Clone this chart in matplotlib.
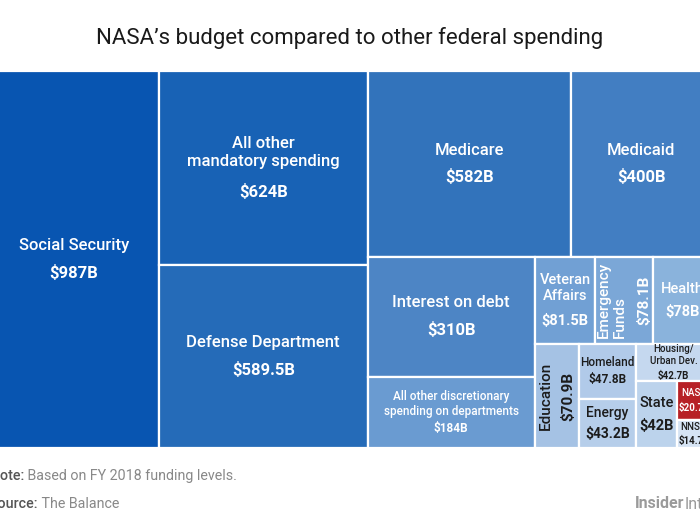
import matplotlib
matplotlib.use("Agg")
import matplotlib.pyplot as plt
from matplotlib.patches import Rectangle

# budget items, FY 2018 ($ billions)
names = ["Social Security", "All other\nmandatory spending", "Defense Department",
         "Medicare", "Medicaid", "Interest on debt",
         "All other discretionary\nspending on departments",
         "Veteran\nAffairs", "Emergency\nFunds", "Health", "Education",
         "Homeland", "Energy", "Housing/\nUrban Dev.", "State", "NASA", "NNSA"]
values = [987, 624, 589.5, 582, 400, 310, 184, 81.5, 78.1, 78, 70.9,
          47.8, 43.2, 42.7, 42, 20.7, 14.7]

colors = ["#0855b1", "#1862b5", "#256bb8", "#3273bb", "#427ec2", "#4d85c5",
          "#6a9bd1", "#71a0d4", "#7ba7d7", "#8ab3dc", "#a5c2e4", "#b1cae9",
          "#b6ceea", "#c5d8ef", "#bcd3ec", "#b72126", "#d6e4f4"]
dark = "#1c1c1c"
txtcol = ["w"] * 10 + [dark] * 5 + ["w", dark]
fsize = [12, 12, 12, 12, 12, 12, 8.5, 10.5, 11, 10.5, 11, 8.5, 10, 7, 10.5, 7, 7]
rot = {8: 90, 10: 90}

# slice-and-dice structure: 'h' = side by side, 'v' = stacked
tree = ("h", [0, ("v", [1, 2]),
              ("v", [("h", [3, 4]),
                     ("h", [("v", [5, 6]),
                            ("v", [("h", [7, 8, 9]),
                                   ("h", [10, ("v", [11, 12]),
                                          ("v", [13, ("h", [14, ("v", [15, 16])])])])])])])])


def total(node):
    if isinstance(node, int):
        return values[node]
    return sum(total(c) for c in node[1])


def layout(node, x, y, w, h, out):
    if isinstance(node, int):
        out[node] = (x, y, w, h)
        return
    d, kids = node
    s = total(node)
    for k in kids:
        f = total(k) / s
        if d == "h":
            layout(k, x, y, w * f, h, out)
            x += w * f
        else:
            layout(k, x, y, w, h * f, out)
            y += h * f


rects = {}
layout(tree, 0, 0, 1, 1, rects)

fig = plt.figure(figsize=(7, 5.25), dpi=100)
W, H = 700, 525
ax = fig.add_axes([-11 / W, (H - 448) / H, 722 / W, 377 / H])
ax.set_xlim(0, 1)
ax.set_ylim(1, 0)
ax.axis("off")

fam = ["Roboto", "DejaVu Sans"]
for i in range(len(values)):
    x, y, w, h = rects[i]
    ax.add_patch(Rectangle((x, y), w, h, facecolor=colors[i], edgecolor="white", lw=1.6))
    cx, cy = x + w / 2, y + h / 2
    fs = fsize[i]
    n = names[i].count("\n") + 1
    val = f"${values[i]:g}B"
    if i in rot:
        tot = n * fs * 1.2 + fs * 1.15
        ax.annotate(names[i], (cx, cy), xytext=(-tot / 2, 0), textcoords="offset points",
                    rotation=90, ha="left", va="center", fontsize=fs, color=txtcol[i],
                    family=fam, fontweight="medium", linespacing=1.15)
        ax.annotate(val, (cx, cy), xytext=(tot / 2, 0), textcoords="offset points",
                    rotation=90, ha="right", va="center", fontsize=fs, color=txtcol[i],
                    family=fam, fontweight="bold")
    else:
        tot = n * fs * 1.25 + fs * 0.1 + fs * 1.2
        ax.annotate(names[i], (cx, cy), xytext=(0, tot / 2), textcoords="offset points",
                    ha="center", va="top", fontsize=fs, color=txtcol[i],
                    family=fam, fontweight="medium", linespacing=1.2, multialignment="center")
        ax.annotate(val, (cx, cy), xytext=(0, -tot / 2), textcoords="offset points",
                    ha="center", va="bottom", fontsize=fs, color=txtcol[i],
                    family=fam, fontweight="bold")

fig.text(0.5, 1 - 38 / H, "NASA\u2019s budget compared to other federal spending",
         ha="center", va="center", fontsize=16,
         family=["Roboto", "DejaVu Sans"], color="#1a1a1a")

t1 = fig.text(-10 / W, 1 - 476 / H, "Note:", ha="left", va="center", fontsize=10.3,
              family=fam, fontweight="medium", color="#555555")
ax.annotate(" Based on FY 2018 funding levels.", xy=(1, 0), xycoords=t1, va="bottom",
            fontsize=10.3, family=fam, color="#888888", annotation_clip=False)
t2 = fig.text(-10 / W, 1 - 504 / H, "Source:", ha="left", va="center", fontsize=10.3,
              family=fam, fontweight="medium", color="#555555")
ax.annotate(" The Balance", xy=(1, 0), xycoords=t2, va="bottom",
            fontsize=10.3, family=fam, color="#888888", annotation_clip=False)
t3 = fig.text(635 / W, 1 - 504 / H, "Insider", ha="left", va="center", fontsize=11.5,
              family=fam, fontweight="bold", color="#9a9a9a")
ax.annotate("Intelligence", xy=(1, 0), xycoords=t3, va="bottom",
            fontsize=11.5, family=fam, color="#9a9a9a", annotation_clip=False)

fig.savefig("out.png", dpi=100)
